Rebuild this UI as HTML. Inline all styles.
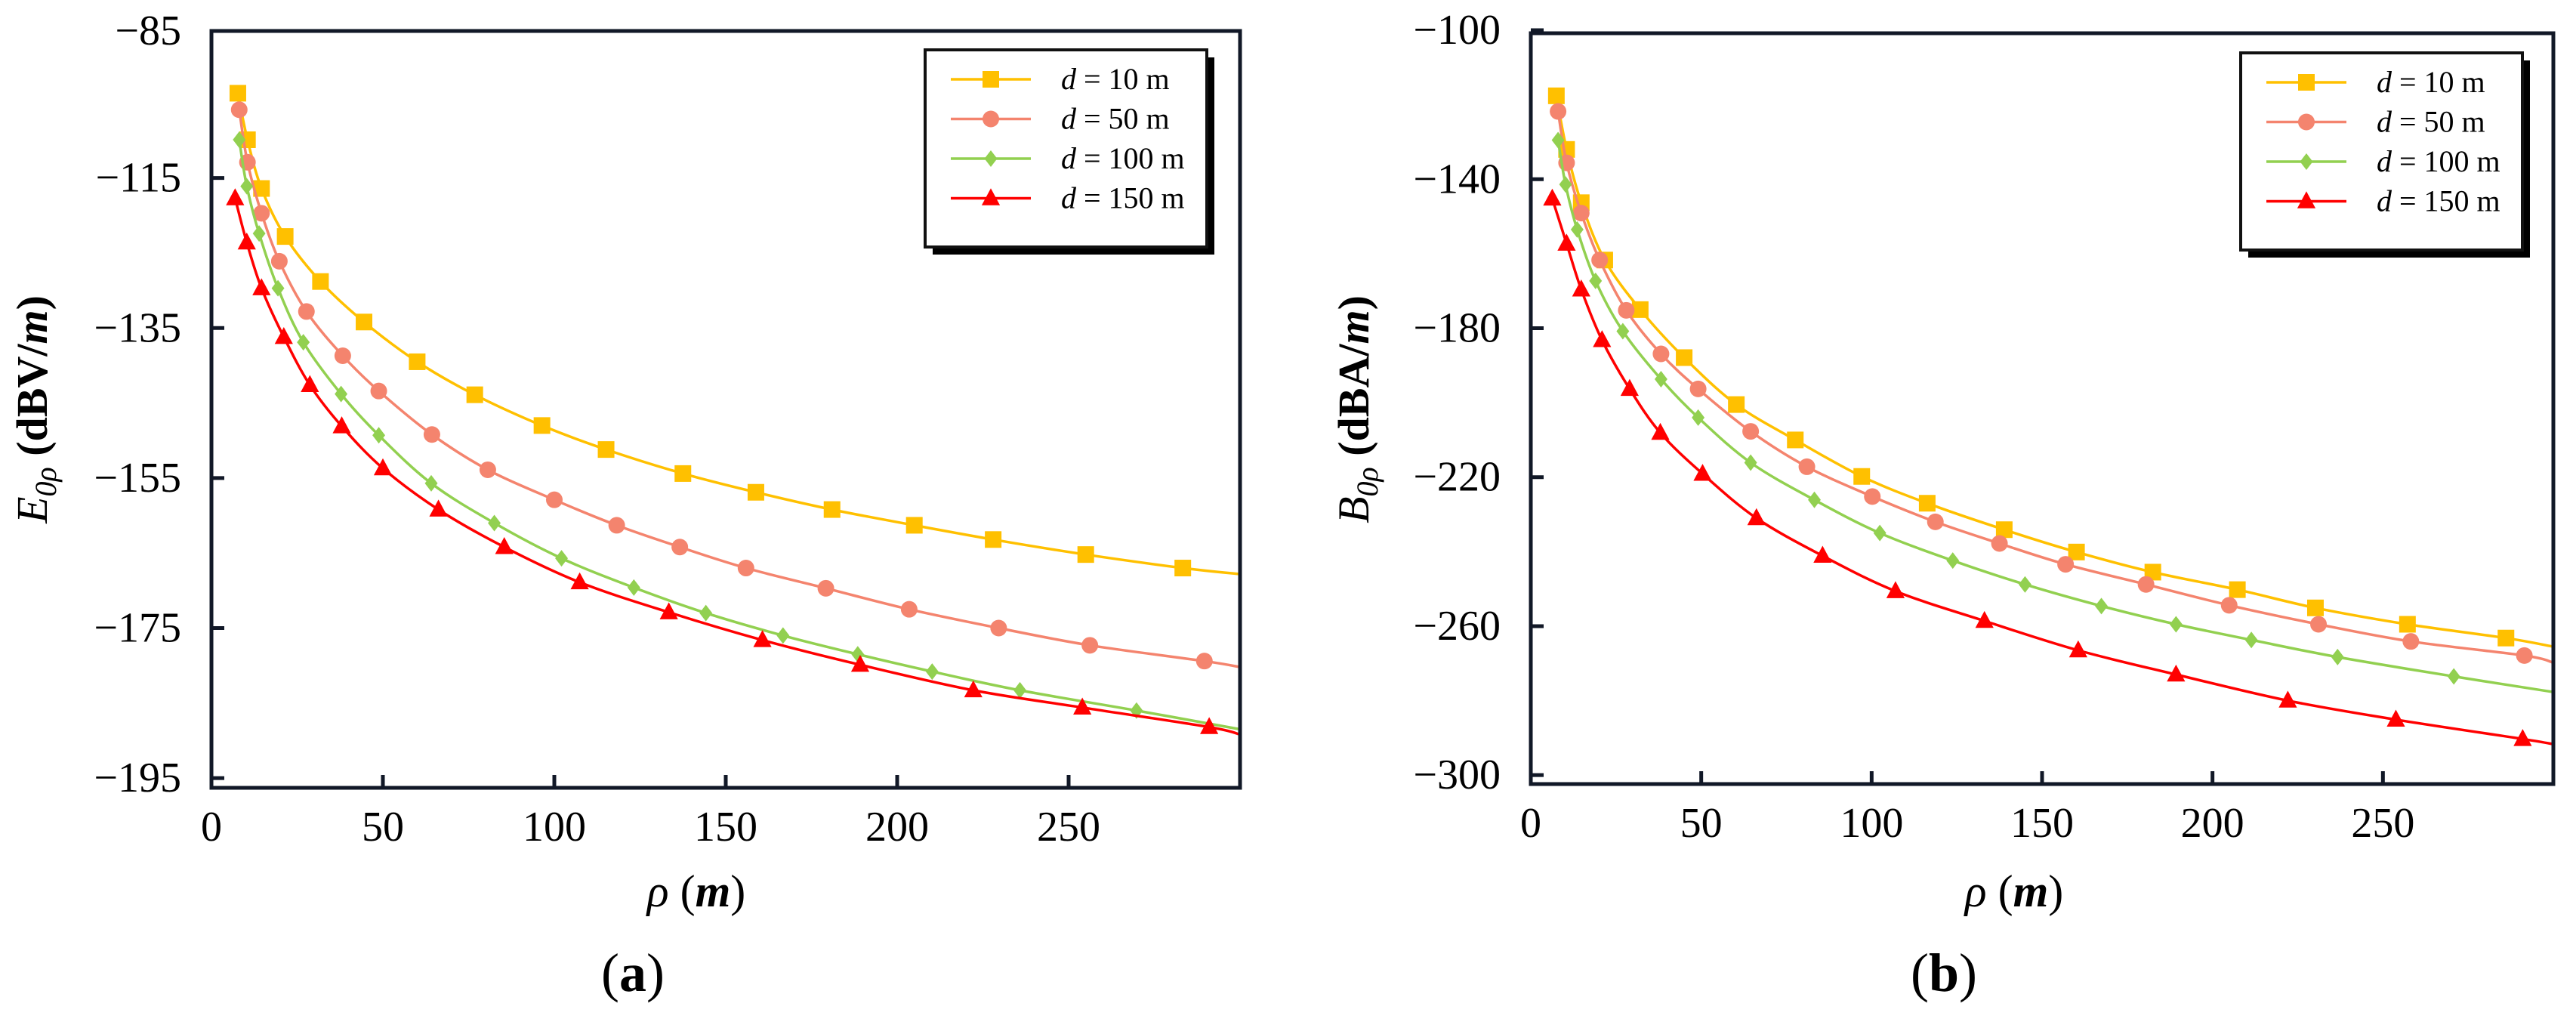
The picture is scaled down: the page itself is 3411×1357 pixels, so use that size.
<!DOCTYPE html>
<html><head><meta charset="utf-8">
<style>
html,body{margin:0;padding:0;background:#fff;}
svg{display:block;}
text{font-family:"Liberation Serif",serif;}
</style></head>
<body>
<svg id="fig" width="3411" height="1357" viewBox="0 0 3411 1357" xmlns="http://www.w3.org/2000/svg">
<rect width="3411" height="1357" fill="#fff"/>
</svg>
<script>
// ---------- data ----------
const seriesNames = ["d = 10 m","d = 50 m","d = 100 m","d = 150 m"];
const xTickValues = [0,50,100,150,200,250];
const xTickLabels = ["0","50","100","150","200","250"];

// panel (a) E0p
const aYTickValues = [-95.4,-115,-135,-155,-175,-195];
const aYTickLabels = ["\u221285","\u2212115","\u2212135","\u2212155","\u2212175","\u2212195"];
const aX10 = [7.7,10.5,14.6,21.5,31.8,44.5,60,76.8,96.4,115.1,137.5,158.8,181,205,228,255,283.3];
const aY10 = [-103.7,-109.9,-116.4,-122.8,-128.8,-134.2,-139.5,-143.9,-148,-151.2,-154.4,-156.9,-159.2,-161.3,-163.2,-165.2,-167];
const aX50 = [8.1,10.5,14.6,19.8,27.7,38.3,48.8,64.3,80.6,100,118.2,136.6,155.9,179.2,203.5,229.6,256.2,289.6];
const aY50 = [-105.9,-112.9,-119.7,-126.1,-132.8,-138.7,-143.4,-149.2,-153.9,-157.9,-161.3,-164.2,-167,-169.7,-172.5,-175,-177.3,-179.4];
const aX100 = [8.1,10.3,13.9,19.4,26.8,37.8,48.8,64.1,82.5,102.1,123.2,144.2,166.7,188.5,210.2,235.8,269.8];
const aY100 = [-109.9,-116.1,-122.4,-129.7,-136.9,-143.8,-149.3,-155.7,-161,-165.7,-169.6,-173,-176,-178.5,-180.8,-183.3,-186];
const aX150 = [6.9,10.3,14.6,21.1,28.7,38,50,66.2,85.4,107.4,133.4,160.7,189.2,222.2,254,291];
const aY150 = [-117.7,-123.6,-129.7,-136.2,-142.6,-148.1,-153.7,-159.2,-164.2,-168.9,-172.9,-176.6,-179.9,-183.3,-185.6,-188.2];
const aEndY = [-167.8,-180.2,-188.5,-189.2]; // curve value at rho = 300

// panel (b) B0p
const bYTickValues = [-100,-140,-180,-220,-260,-300];
const bYTickLabels = ["\u2212100","\u2212140","\u2212180","\u2212220","\u2212260","\u2212300"];
const bX10 = [7.5,10.5,14.8,21.7,32.1,45,60.3,77.6,97.1,116.3,138.9,160.1,182.5,207.3,230.2,257.2,286.1];
const bY10 = [-117.6,-132,-146.3,-161.7,-175,-187.9,-200.5,-210,-219.8,-227,-234.1,-240.1,-245.5,-250.2,-255.1,-259.5,-263.2];
const bX50 = [8,10.5,14.8,20.2,28,38.2,49.1,64.5,81,100.2,118.7,137.5,156.9,180.5,204.9,231.1,258.2,291.5];
const bY50 = [-121.8,-135.6,-149.1,-161.7,-175.2,-186.9,-196.3,-207.7,-217.2,-225.2,-232,-237.8,-243.4,-248.8,-254.4,-259.5,-264.1,-267.9];
const bX100 = [8,10.2,13.6,19,27,38.2,49.1,64.5,83.2,102.4,123.8,145,167.4,189.3,211.4,236.7,270.8];
const bY100 = [-129.5,-141.4,-153.5,-167.3,-180.8,-193.7,-204,-216.1,-226.1,-235,-242.4,-248.8,-254.6,-259.5,-263.7,-268.3,-273.5];
const bX150 = [6.3,10.5,14.8,20.9,29,38,50.4,66.2,85.6,107,133.1,160.6,189.3,222.1,253.8,291];
const bY150 = [-145.2,-157.3,-169.6,-183.2,-196.3,-208.1,-219.1,-231,-241.1,-250.6,-258.6,-266.5,-273,-280,-285.1,-290.3];
const bEndY = [-265.5,-269.8,-277.7,-291.7];

// ---------- drawing ----------
const NS = "http://www.w3.org/2000/svg";
const svg = document.getElementById('fig');
const colors = ["#FFC000","#F4846E","#92D050","#FF0000"];
const markers = ["square","circle","diamond","triangle"];

function mk(tag, attrs, parent){
  const e = document.createElementNS(NS, tag);
  for (const k in attrs) e.setAttribute(k, attrs[k]);
  (parent||svg).appendChild(e);
  return e;
}
function smoothPath(pts){
  let d = "M"+pts[0][0].toFixed(1)+","+pts[0][1].toFixed(1);
  for (let i=0;i<pts.length-1;i++){
    const p0 = pts[Math.max(0,i-1)], p1 = pts[i], p2 = pts[i+1], p3 = pts[Math.min(pts.length-1,i+2)];
    const c1x = p1[0]+(p2[0]-p0[0])/6, c1y = p1[1]+(p2[1]-p0[1])/6;
    const c2x = p2[0]-(p3[0]-p1[0])/6, c2y = p2[1]-(p3[1]-p1[1])/6;
    d += " C"+c1x.toFixed(1)+","+c1y.toFixed(1)+" "+c2x.toFixed(1)+","+c2y.toFixed(1)+" "+p2[0].toFixed(1)+","+p2[1].toFixed(1);
  }
  return d;
}
function drawMarker(g, type, cx, cy, color, s){
  let m;
  if (type==="square") m = mk('rect',{x:cx-s/2,y:cy-s/2,width:s,height:s,fill:color},g);
  else if (type==="circle") m = mk('circle',{cx:cx,cy:cy,r:s/2,fill:color},g);
  else if (type==="diamond") m = mk('polygon',{points:(cx)+","+(cy-s/2)+" "+(cx+s/2.6)+","+cy+" "+cx+","+(cy+s/2)+" "+(cx-s/2.6)+","+cy,fill:color},g);
  else m = mk('polygon',{points:cx+","+(cy-s*0.6)+" "+(cx+s*0.55)+","+(cy+s*0.42)+" "+(cx-s*0.55)+","+(cy+s*0.42),fill:color},g);
  return m;
}

function panel(cfg){
  const L=cfg.left,R=cfg.right,T=cfg.top,B=cfg.bottom;
  const xs = v => L + (v-0)/(300-0)*(R-L);
  const ys = v => T + (cfg.ymax-v)/(cfg.ymax-cfg.ymin)*(B-T);
  const g = mk('g',{});
  
  

  // series
  for (let s=0;s<4;s++){
    const X = cfg.xs[s], Y = cfg.ys[s];
    const pts = X.map((x,i)=>[xs(x),ys(Y[i])]);
    pts.push([xs(300),ys(cfg.endY[s])]);
    const sg = mk('g',{},g);
    
    
    const line = mk('path',{d:smoothPath(pts),fill:'none',stroke:colors[s],'stroke-width':3.5},sg);
    
    
    for (let i=0;i<X.length;i++){
      const m = drawMarker(sg, markers[s], xs(X[i]), ys(Y[i]), colors[s], 22);
      
      
    }
  }

  // axes frame
  const frame = mk('rect',{x:L,y:T,width:R-L,height:B-T,fill:'none',stroke:'#111827','stroke-width':5},g);
  
  

  // x ticks
  xTickValues.forEach((v,i)=>{
    const x = xs(v);
    if (i>0) mk('line',{x1:x,y1:B,x2:x,y2:B-17,stroke:'#111827','stroke-width':5},g);
    const t = mk('text',{x:x,y:B+70,'font-size':56,'text-anchor':'middle',fill:'#000'},g);
    t.textContent = xTickLabels[i];
    
    
  });
  // y ticks
  cfg.yTicks.forEach((v,i)=>{
    const y = ys(v);
    mk('line',{x1:L,y1:y,x2:L+17,y2:y,stroke:'#111827','stroke-width':5},g);
    const t = mk('text',{x:L-40,y:y+18,'font-size':56,'text-anchor':'end',fill:'#000'},g);
    t.textContent = cfg.yLabels[i];
    
    
  });

  // legend
  const lg = mk('g',{},g);
  
  
  const lx = cfg.legX, ly = cfg.legY;
  mk('rect',{x:lx+10,y:ly+10,width:373,height:261,fill:'#000'},lg);
  mk('rect',{x:lx,y:ly,width:373,height:261,fill:'#fff',stroke:'#111','stroke-width':4},lg);
  for (let s=0;s<4;s++){
    const ry = ly+39+s*52.5;
    const e = mk('g',{},lg);
    
    
    mk('line',{x1:lx+34,y1:ry,x2:lx+140,y2:ry,stroke:colors[s],'stroke-width':3.5},e);
    drawMarker(e, markers[s], lx+87, ry, colors[s], 22);
    const t = mk('text',{x:lx+180,y:ry+13,'font-size':40,fill:'#000'},e);
    t.innerHTML = '<tspan font-style="italic">d</tspan> = '+seriesNames[s].slice(4);
  }

  // axis titles
  const xt = mk('text',{x:cfg.xTitleX,y:1200,'font-size':60,'text-anchor':'middle',fill:'#000'},g);
  xt.innerHTML = '<tspan font-style="italic">\u03C1</tspan> (<tspan font-style="italic" font-weight="bold">m</tspan>)';
  
  

  const yt = mk('text',{x:0,y:0,'font-size':58,'text-anchor':'middle',fill:'#000',transform:'translate('+cfg.yTitleX+',542) rotate(-90)'},g);
  yt.innerHTML = '<tspan font-style="italic">'+cfg.ySym+'</tspan><tspan font-style="italic" font-size="40" dy="12">0\u03C1</tspan><tspan dy="-12" font-weight="bold"> ('+cfg.yUnit+'/</tspan><tspan font-weight="bold" font-style="italic">m</tspan><tspan font-weight="bold">)</tspan>';
  
  

  const cap = mk('text',{x:cfg.capX,y:1312,'font-size':72,'text-anchor':'middle',fill:'#000'},g);
  cap.innerHTML = '(<tspan font-weight="bold">'+cfg.tag+'</tspan>)';
  
  
}

panel({name:'panel-a-electric-field', tag:'a', left:280, right:1642, top:41, bottom:1043,
  ymin:-196.3, ymax:-95.4, yTicks:aYTickValues, yLabels:aYTickLabels,
  xs:[aX10,aX50,aX100,aX150], ys:[aY10,aY50,aY100,aY150], endY:aEndY,
  legX:1225, legY:66, xTitleX:922, yTitleX:62, ySym:'E', yUnit:'dBV', capX:838});

panel({name:'panel-b-magnetic-field', tag:'b', left:2027, right:3381, top:44, bottom:1038,
  ymin:-302.4, ymax:-100.8, yTicks:bYTickValues, yLabels:bYTickLabels,
  xs:[bX10,bX50,bX100,bX150], ys:[bY10,bY50,bY100,bY150], endY:bEndY,
  legX:2967, legY:70, xTitleX:2667, yTitleX:1812, ySym:'B', yUnit:'dBA', capX:2574});
</script>
</body></html>
